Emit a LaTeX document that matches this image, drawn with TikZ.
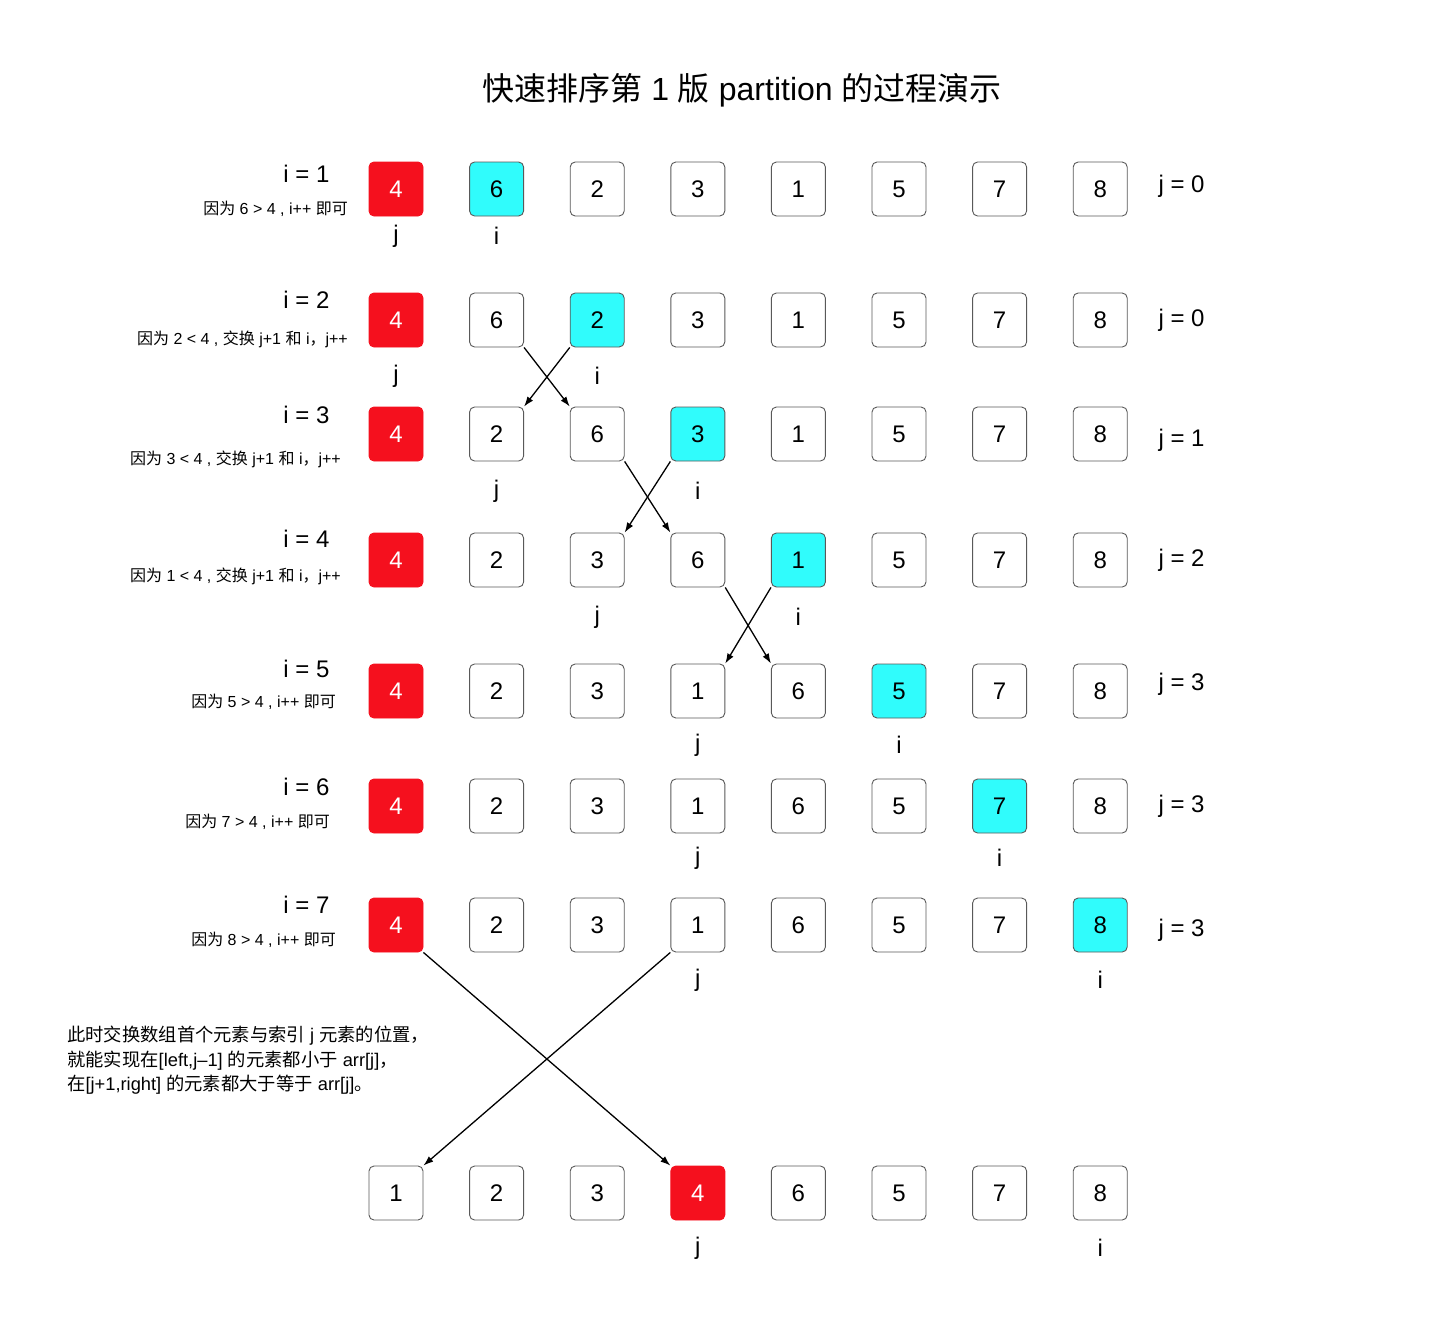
\documentclass[tikz,border=0pt]{standalone}
\usepackage{fontspec}
\setmainfont{Liberation Sans}
\newfontfamily\cjk{Noto Sans CJK SC}
\newcommand{\zh}[1]{{\cjk #1}}
\usetikzlibrary{calc,arrows.meta}

\definecolor{pivotred}{HTML}{F5101E}
\definecolor{scancyan}{HTML}{30FCFC}

\tikzset{
    plaincell/.style={rectangle, rounded corners=5pt, minimum size=54pt, inner sep=0pt,
        draw=black!65, line width=0.9pt, fill=white, font=\fontsize{24}{26}\selectfont},
    redcell/.style={plaincell, fill=pivotred, draw=pivotred, text=white},
    cyancell/.style={plaincell, fill=scancyan, draw=black!65},
    ptr/.style={font=\fontsize{24}{26}\selectfont},
    steplabel/.style={anchor=east, font=\fontsize{24}{26}\selectfont},
    note/.style={anchor=east, inner sep=0pt, font=\fontsize{16}{18}\selectfont},
    swaparrow/.style={-{Latex[length=10pt,width=7pt]}, line width=1.3pt},
}

\begin{document}
\begin{tikzpicture}[x=1pt, y=-1pt]
    \useasboundingbox (0,0) rectangle (1440,1330);

    \node[font=\fontsize{32}{36}\selectfont] (title) at (742,90)
        {\zh{快速排序第} 1 \zh{版} partition \zh{的过程演示}};

    % rows of cells
    \foreach \r/\y/\vals/\red/\cyan in {
        1/189/{4,6,2,3,1,5,7,8}/1/2,
        2/320/{4,6,2,3,1,5,7,8}/1/3,
        3/434/{4,2,6,3,1,5,7,8}/1/4,
        4/560/{4,2,3,6,1,5,7,8}/1/5,
        5/691/{4,2,3,1,6,5,7,8}/1/6,
        6/806/{4,2,3,1,6,5,7,8}/1/7,
        7/925/{4,2,3,1,6,5,7,8}/1/8,
        8/1193/{1,2,3,4,6,5,7,8}/4/0} {
        \foreach \v [count=\c] in \vals {
            \ifnum\c=\red
                \tikzset{cur/.style=redcell}
            \else\ifnum\c=\cyan
                \tikzset{cur/.style=cyancell}
            \else
                \tikzset{cur/.style=plaincell}
            \fi\fi
            \node[cur] (cell-\r-\c) at ({396+(\c-1)*100.6},\y) {\v};
        }
    }

    % j and i pointers under the cells
    \foreach \r/\jc/\ic/\dy in {1/1/2/47, 2/1/3/56, 3/2/4/57, 4/3/5/57, 5/4/6/54, 6/4/7/52, 7/4/8/55, 8/4/8/55} {
        \node[ptr] (jptr-\r) at ($(cell-\r-\jc)+(0,\dy)$) {j};
        \node[ptr] (iptr-\r) at ($(cell-\r-\ic)+(0,\dy)$) {i};
    }

    % i = ... on the left
    \foreach \r/\y in {1/174, 2/300, 3/415, 4/539, 5/669, 6/787, 7/905}
        \node[steplabel] (istep-\r) at (333,\y) {i = \r};

    % reasons
    \node[note] (note-1) at (348,209) {\zh{因为} 6 > 4 , i++ \zh{即可}};
    \node[note] (note-2) at (348,339) {\zh{因为} 2 < 4 , \zh{交换} j+1 \zh{和} i\zh{，}j++};
    \node[note] (note-3) at (341,459) {\zh{因为} 3 < 4 , \zh{交换} j+1 \zh{和} i\zh{，}j++};
    \node[note] (note-4) at (341,576) {\zh{因为} 1 < 4 , \zh{交换} j+1 \zh{和} i\zh{，}j++};
    \node[note] (note-5) at (336,702) {\zh{因为} 5 > 4 , i++ \zh{即可}};
    \node[note] (note-6) at (330,822) {\zh{因为} 7 > 4 , i++ \zh{即可}};
    \node[note] (note-7) at (336,940) {\zh{因为} 8 > 4 , i++ \zh{即可}};

    % j = ... on the right
    \foreach \r/\y/\jv in {1/186/0, 2/320/0, 3/440/1, 4/560/2, 5/684/3, 6/806/3, 7/930/3}
        \node[anchor=west, font=\fontsize{24}{26}\selectfont] (jval-\r) at (1155,\y) {j = \jv};

    % swaps
    \draw[swaparrow] (cell-2-2.south east) -- (cell-3-3.north west);
    \draw[swaparrow] (cell-2-3.south west) -- (cell-3-2.north east);
    \draw[swaparrow] (cell-3-3.south east) -- (cell-4-4.north west);
    \draw[swaparrow] (cell-3-4.south west) -- (cell-4-3.north east);
    \draw[swaparrow] (cell-4-4.south east) -- (cell-5-5.north west);
    \draw[swaparrow] (cell-4-5.south west) -- (cell-5-4.north east);
    \draw[swaparrow] (cell-7-1.south east) -- (cell-8-4.north west);
    \draw[swaparrow] (cell-7-4.south west) -- (cell-8-1.north east);

    \node[anchor=north west, align=left, inner sep=0pt, font=\fontsize{18.3}{24.5}\selectfont] (summary) at (67,1026)
        {\zh{此时交换数组首个元素与索引} j \zh{元素的位置，}\\\zh{就能实现在}[left,j–1] \zh{的元素都小于} arr[j]\zh{，}\\\zh{在}[j+1,right] \zh{的元素都大于等于} arr[j]\zh{。}};
\end{tikzpicture}
\end{document}
